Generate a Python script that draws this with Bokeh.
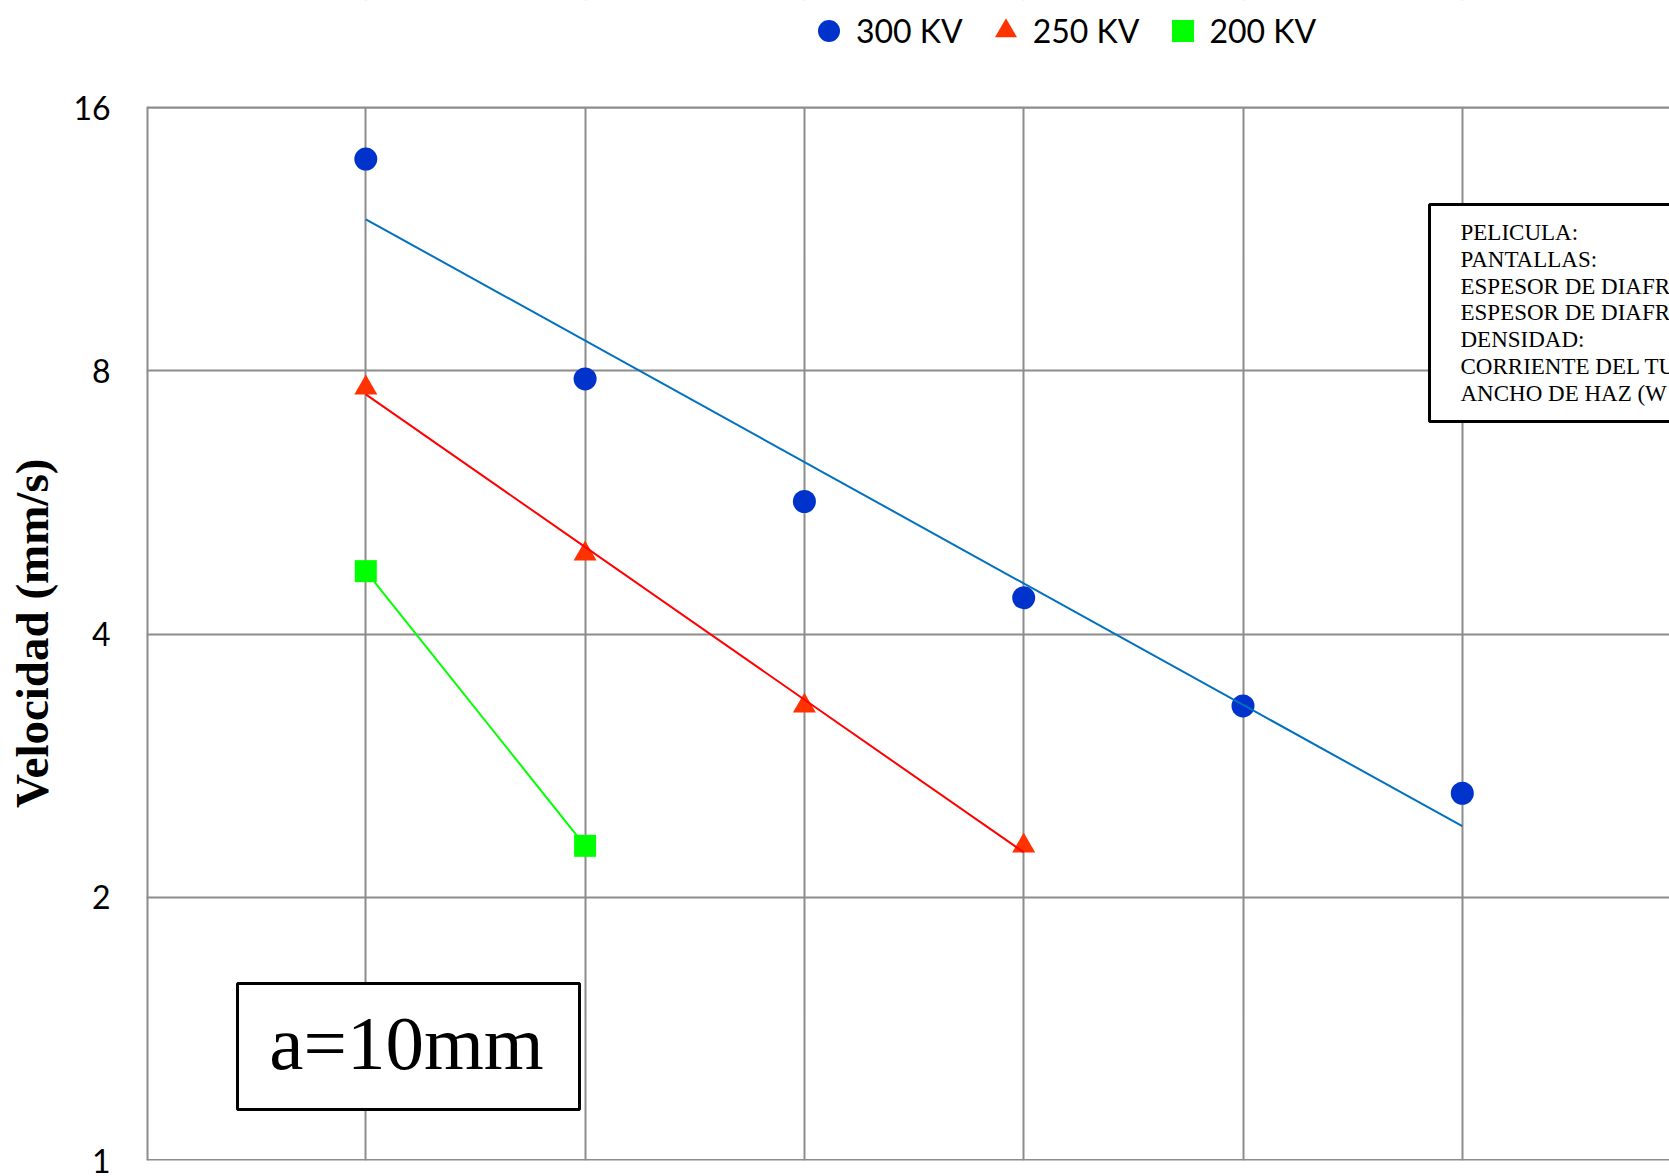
import numpy as np
from bokeh.plotting import figure
from bokeh.models import Range1d, FixedTicker, Legend, LegendItem, BoxAnnotation, Label, Span
from bokeh.embed import file_html
from bokeh.resources import INLINE

# ---------------- data ----------------
positions_300 = [1, 2, 3, 4, 5, 6]
velocity_300 = [13.97, 7.83, 5.67, 4.40, 3.31, 2.63]
positions_250 = [1, 2, 3, 4]
velocity_250 = [7.65, 4.94, 3.31, 2.29]
positions_200 = [1, 2]
velocity_200 = [4.72, 2.29]
series_names = ["300 KV", "250 KV", "200 KV"]
y_ticks = [1, 2, 4, 8, 16]
y_tick_labels = ["1", "2", "4", "8", "16"]
x_grid_ticks = [0, 1, 2, 3, 4, 5, 6, 7]
y_label = "Velocidad (mm/s)"
info_lines = ["PELICULA:", "PANTALLAS:", "ESPESOR DE DIAFR", "ESPESOR DE DIAFR",
              "DENSIDAD:", "CORRIENTE DEL TU", "ANCHO DE HAZ (W"]
note_text = "a=10mm"

# ---------------- layout helpers ----------------
FRAME_LEFT, PLOT_TOP, FRAME_BOTTOM = 146, 107, 1160
W, H = 1669, 1176
X_UNIT = 219.3
X_END = (W - FRAME_LEFT) / X_UNIT
PX_PER_DOUBLING = (FRAME_BOTTOM - PLOT_TOP) / 4.0
GRID_COLOR = "#8c8c8c"
Y_MIN, Y_MAX = y_ticks[0], y_ticks[-1]
X_MIN = x_grid_ticks[0]


def xd(px):
    return (px - FRAME_LEFT) / X_UNIT


def yd(py):
    return 2 ** ((FRAME_BOTTOM - py) / PX_PER_DOUBLING)


p = figure(width=W, height=H, x_range=Range1d(X_MIN, X_END), y_range=Range1d(Y_MIN, yd(0)),
           y_axis_type="log", output_backend="svg", toolbar_location=None,
           min_border_left=FRAME_LEFT, min_border_right=0,
           min_border_top=0, min_border_bottom=H - FRAME_BOTTOM)
p.outline_line_color = None
p.background_fill_color = "white"
p.border_fill_color = "white"
p.xaxis.visible = False

p.xgrid.ticker = FixedTicker(ticks=x_grid_ticks)
p.ygrid.ticker = FixedTicker(ticks=y_ticks)
for g in (p.xgrid, p.ygrid):
    g.grid_line_color = GRID_COLOR
    g.grid_line_width = 2
    g.grid_line_alpha = 1.0

# plot-area border lines (left, bottom)
p.segment(x0=[X_MIN], y0=[Y_MIN], x1=[X_MIN], y1=[Y_MAX], line_color=GRID_COLOR,
          line_width=4, level="underlay")
p.add_layout(Span(location=Y_MIN, dimension="width", line_color=GRID_COLOR, line_width=3,
                  level="underlay"))

ax = p.yaxis[0]
ax.ticker = FixedTicker(ticks=y_ticks)
ax.bounds = (Y_MIN, Y_MAX)
ax.major_label_overrides = {t: l for t, l in zip(y_ticks, y_tick_labels)}
ax.axis_line_color = None
ax.major_tick_line_color = None
ax.minor_tick_line_color = None
ax.major_tick_out = 0
ax.major_tick_in = 0
ax.major_label_standoff = 36
ax.major_label_text_font = "Lato"
ax.major_label_text_font_size = "32px"
ax.major_label_text_color = "black"
# trailing no-break spaces move the centred label down to the middle of the 1..16 span
ax.axis_label = y_label + "\u00a0" * 9
ax.axis_label_text_font = "Liberation Serif"
ax.axis_label_text_font_style = "bold"
ax.axis_label_text_font_size = "47px"
ax.axis_label_text_color = "black"
ax.axis_label_standoff = 12

# markers
r300 = p.scatter(positions_300, velocity_300, marker="circle", size=23,
                 fill_color="#0033CC", line_color=None)
r250 = p.scatter(positions_250, velocity_250, marker="triangle", size=23,
                 fill_color="#FF3300", line_color=None)
r200 = p.scatter(positions_200, velocity_200, marker="square", size=22,
                 fill_color="#00FF00", line_color=None)


# exponential trend lines (least squares on log values)
def trend(xs, ys):
    xs = np.asarray(xs, dtype=float)
    k, b = np.polyfit(xs, np.log(np.asarray(ys, dtype=float)), 1)
    xx = np.array([xs.min(), xs.max()])
    return xx, np.exp(k * xx + b)


for xs, ys, col in ((positions_300, velocity_300, "#0070C0"),
                    (positions_250, velocity_250, "#FF0000"),
                    (positions_200, velocity_200, "#00FF00")):
    tx, ty = trend(xs, ys)
    p.line(tx, ty, line_color=col, line_width=2)

# white band above the plot area (hides grid lines above the top value)
p.add_layout(BoxAnnotation(bottom=Y_MAX, top=yd(-20), left=xd(100), right=xd(1900),
                           fill_color="white", fill_alpha=1.0, line_color=None))
p.add_layout(Span(location=Y_MAX, dimension="width", line_color=GRID_COLOR, line_width=2))

# legend at the top
LEG_H = 55
legend = Legend(items=[LegendItem(label=series_names[0], renderers=[r300]),
                       LegendItem(label=series_names[1], renderers=[r250]),
                       LegendItem(label=series_names[2], renderers=[r200])],
                orientation="horizontal",
                location=(801 - FRAME_LEFT, FRAME_BOTTOM - 57.5))
legend.glyph_width = LEG_H
legend.glyph_height = LEG_H
legend.label_standoff = -8
legend.spacing = 15
legend.padding = 0
legend.margin = 0
legend.border_line_color = None
legend.background_fill_alpha = 0
legend.label_text_font = "Lato"
legend.label_text_font_size = "32px"
legend.label_text_color = "black"
p.add_layout(legend)

# info box on the right
p.add_layout(BoxAnnotation(left=xd(1429), right=xd(1900), top=yd(204), bottom=yd(421),
                           fill_color="white", fill_alpha=1.0,
                           line_color="black", line_alpha=1.0, line_width=3))
for i, txt in enumerate(info_lines):
    p.add_layout(Label(x=xd(1460), y=yd(232 + 26.8 * i), text=txt,
                       text_font="Liberation Serif", text_font_size="23px",
                       text_color="black", text_baseline="middle", text_align="left"))

# note box
p.add_layout(BoxAnnotation(left=xd(237), right=xd(579), top=yd(983), bottom=yd(1109),
                           fill_color="white", fill_alpha=1.0,
                           line_color="black", line_alpha=1.0, line_width=3))
p.add_layout(Label(x=xd(406), y=yd(1042), text=note_text,
                   text_font="Liberation Serif", text_font_size="77px",
                   text_color="black", text_baseline="middle", text_align="center"))

open("out.html", "w").write(file_html(p, INLINE))
